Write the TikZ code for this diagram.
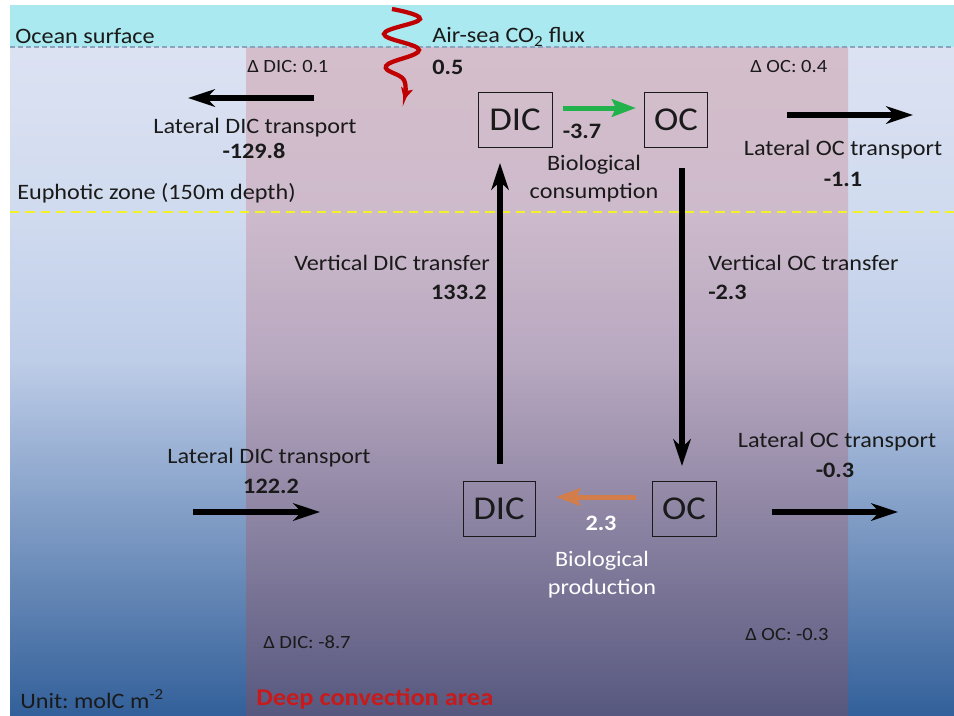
\documentclass[tikz,border=0pt]{standalone}
\usepackage{fontspec}
\setmainfont{Carlito}[FakeStretch=1.1]
\usepackage{xcolor}
\usetikzlibrary{positioning, arrows.meta, calc}
\frenchspacing

\definecolor{inkgray}{HTML}{1A1A1A}
\definecolor{surfband}{HTML}{A9E9EF}
\definecolor{surfline}{HTML}{8AA4BE}
\definecolor{euphline}{HTML}{F2F226}
\definecolor{sidetop}{HTML}{DCE2F2}
\definecolor{sideeup}{HTML}{D0DBEF}
\definecolor{sidemid}{HTML}{BECDE8}
\definecolor{sidedeep}{HTML}{33609A}
\definecolor{convtop}{HTML}{D5BECB}
\definecolor{conveup}{HTML}{CDBACB}
\definecolor{convmid}{HTML}{B8A8C0}
\definecolor{convdeep}{HTML}{57587F}
\definecolor{fluxred}{HTML}{C00000}
\definecolor{fluxgreen}{HTML}{22B24B}
\definecolor{fluxorange}{HTML}{D27D4A}
\definecolor{areared}{HTML}{C81A1A}

% columns of water: path mapped on 25bp..75bp
\pgfdeclareverticalshading{oceanside}{100bp}{color(0bp)=(sidedeep); color(25bp)=(sidedeep);
  color(51.6bp)=(sidemid); color(62.6bp)=(sideeup); color(75bp)=(sidetop); color(100bp)=(sidetop)}
\pgfdeclareverticalshading{convarea}{100bp}{color(0bp)=(convdeep); color(25bp)=(convdeep);
  color(51.6bp)=(convmid); color(62.6bp)=(conveup); color(75bp)=(convtop); color(100bp)=(convtop)}

\begin{document}
\begin{tikzpicture}[
  x=0.75pt, y=-0.75pt,
  font=\fontsize{16.5}{19}\selectfont, text=inkgray,
  lbl/.style={inner sep=0pt, align=center},
  val/.style={lbl, font=\fontsize{16.5}{19}\selectfont\bfseries},
  dlt/.style={inner sep=0pt, font=\fontsize{14}{16}\selectfont},
  pool/.style={draw=inkgray, line width=0.75pt, inner sep=0pt, minimum height=41.25pt,
               font=\fontsize{25}{30}\selectfont},
  flux/.style={line width=4.5pt, -{Stealth[length=20pt, width=13pt, inset=6pt]}},
  bio/.style={line width=3.75pt, -{Stealth[length=18pt, width=13pt, inset=3pt]}}
]
\useasboundingbox (0,0) rectangle (954,715);
\fill[white] (0,0) rectangle (954,715);

% water
\shade[shading=oceanside] (10,47) rectangle (954,715);
\shade[shading=convarea] (246,47) rectangle (848,715);
\fill[surfband] (10,5) rectangle (954,47);
\draw[surfline, line width=0.9pt, dash pattern=on 3.5pt off 2.5pt] (10,47) -- (954,47);
\draw[euphline, line width=1.6pt, dash pattern=on 7pt off 4.5pt] (10,212) -- (954,212);

\node[lbl, anchor=west] (surf) at (15,36) {Ocean surface};
\node[lbl, anchor=west] (euph) at (17,193) {Euphotic zone (150m depth)};

% carbon pools
\node[pool, minimum width=55.5pt] (dicsurf) at (515,120) {DIC};
\node[pool, minimum width=47.25pt] (ocsurf) at (676,120) {OC};
\node[pool, minimum width=54pt] (dicdeep) at (499,509) {DIC};
\node[pool, minimum width=48pt] (ocdeep) at (684,509) {OC};

% air-sea flux
\draw[fluxred, line width=3.2pt, -{Stealth[length=9pt, width=9pt, inset=2pt]}]
  plot[smooth, tension=0.7] coordinates {(392,9) (420,19) (384,34) (419,50) (386,66) (404,80) (404,100)};
\node[lbl, anchor=west] (airsea) at (432,37) {Air-sea CO\textsubscript{2} flux};
\node[val, anchor=west] (airval) at (432,67) {0.5};

\node[dlt, anchor=west] (ddicsurf) at (247,67) {Δ DIC: 0.1};
\node[dlt, anchor=west] (docsurf) at (750,67) {Δ OC: 0.4};

% lateral transports
\coordinate (latdicsurf) at (314,98);
\coordinate (latdicsurfend) at (188,98);
\draw[flux] (latdicsurf) -- (latdicsurfend);
\node[lbl] (latdicsurflbl) at (255,128) {Lateral DIC transport};
\node[val] (latdicsurfval) at (254,151) {-129.8};

\coordinate (latocsurf) at (787,115);
\coordinate (latocsurfend) at (913,115);
\draw[flux] (latocsurf) -- (latocsurfend);
\node[lbl] (latocsurflbl) at (843,150) {Lateral OC transport};
\node[val] (latocsurfval) at (843,179) {-1.1};

\coordinate (latdicdeep) at (193,512);
\coordinate (latdicdeepend) at (320,512);
\draw[flux] (latdicdeep) -- (latdicdeepend);
\node[lbl] (latdicdeeplbl) at (269,458) {Lateral DIC transport};
\node[val] (latdicdeepval) at (271,486) {122.2};

\coordinate (latocdeep) at (772,512);
\coordinate (latocdeepend) at (898,512);
\draw[flux] (latocdeep) -- (latocdeepend);
\node[lbl] (latocdeeplbl) at (837,442) {Lateral OC transport};
\node[val] (latocdeepval) at (835,470) {-0.3};

% biology
\draw[bio, fluxgreen, shorten <=7.5pt, shorten >=6pt]
  ([yshift=9pt]dicsurf.east) -- ([yshift=9pt]ocsurf.west);
\node[val] (consval) at (582,131) {-3.7};
\node[lbl, font=\fontsize{16.5}{21}\selectfont] (conslbl) at (594,179) {Biological\\consumption};

\draw[bio, fluxorange, shorten <=12pt, shorten >=15.5pt]
  ([yshift=9pt]ocdeep.west) -- ([yshift=9pt]dicdeep.east);
\node[val, text=white] (prodval) at (601,523) {2.3};
\node[lbl, text=white, font=\fontsize{16.5}{21}\selectfont] (prodlbl) at (602,575) {Biological\\production};

% vertical transfers
\draw[flux, shorten <=12.75pt, shorten >=11.25pt]
  ([xshift=0.75pt]dicdeep.north) -- ([xshift=0.75pt]dicdeep.north |- dicsurf.south);
\node[lbl, anchor=east] (vertdiclbl) at (490,263) {Vertical DIC transfer};
\node[val, anchor=east] (vertdicval) at (487,292) {133.2};

\draw[flux, shorten <=15pt, shorten >=11.25pt]
  ([xshift=-1.5pt]ocdeep.north |- ocsurf.south) -- ([xshift=-1.5pt]ocdeep.north);
\node[lbl, anchor=west] (vertoclbl) at (708,263) {Vertical OC transfer};
\node[val, anchor=west] (vertocval) at (708,292) {-2.3};

\node[dlt, anchor=west] (ddicdeep) at (263,642) {Δ DIC: -8.7};
\node[dlt, anchor=west] (docdeep) at (745,635) {Δ OC: -0.3};

\node[lbl, anchor=west] (unit) at (20,699) {Unit: molC m\textsuperscript{-2}};
\node[val, anchor=west, text=areared, font=\fontsize{18}{21}\selectfont\bfseries] (area) at (256,699) {Deep convection area};
\end{tikzpicture}
\end{document}
